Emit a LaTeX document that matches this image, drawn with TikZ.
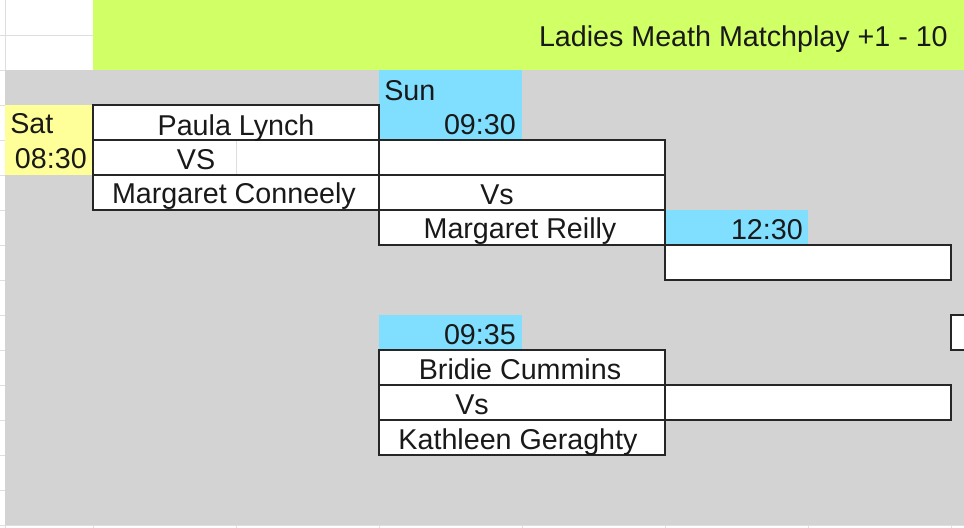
\documentclass[tikz,border=0pt]{standalone}
\usepackage{fontspec}
\setmainfont{Liberation Sans}
\usetikzlibrary{positioning}

\definecolor{sheetgray}{RGB}{211,211,211}
\definecolor{headgreen}{RGB}{208,255,102}
\definecolor{timeblue}{RGB}{128,222,255}
\definecolor{dayyellow}{RGB}{255,255,153}
\definecolor{gridgray}{RGB}{222,222,222}

\begin{document}
\begin{tikzpicture}[x=0.75pt, y=-0.75pt,
    gridline/.style={draw=gridgray, line width=0.6pt},
    slot/.style={draw=black!85, fill=white, line width=0.8pt, minimum width=214.5pt, minimum height=26.25pt, inner sep=0pt},
    entry/.style={anchor=base, inner sep=0pt, font=\fontsize{21.5}{24}\selectfont, text=black!90}]

    \useasboundingbox (0,0) rectangle (964,528);
    \fill[white] (0,0) rectangle (964,528);

    % sheet grid
    \foreach \y in {35,70,...,525} \draw[gridline] (0,\y) -- (964,\y);
    \foreach \x in {5,93,236,379,522,665,808,951} \draw[gridline] (\x,0) -- (\x,528);

    % shaded area and coloured cells
    \fill[sheetgray] (5,70) rectangle (964,525);
    \fill[headgreen] (93,0) rectangle (964,70);
    \fill[dayyellow] (5,105) rectangle (93,175);
    \fill[timeblue] (379,70) rectangle (522,140);
    \fill[timeblue] (665,210) rectangle (808,245);
    \fill[timeblue] (379,315) rectangle (522,350);

    \node[entry, anchor=base east] (title) at (948,47) {Ladies Meath Matchplay +1 - 10};

    % saturday match
    \node[slot] (paula) at (236,122.5) {};
    \node[slot] (vsone) at (236,157.5) {};
    \draw[gridline] (236,141) -- (236,174);
    \node[slot] (conneely) at (236,192.5) {};
    \node[entry, anchor=base west] (sat) at (10,133) {Sat};
    \node[entry, anchor=base east] (satime) at (87,168) {08:30};
    \node[entry] (paulatxt) at (236,135) {Paula Lynch};
    \node[entry] (vsonetxt) at (196,169) {VS};
    \node[entry] (conneelytxt) at (234,203) {Margaret Conneely};

    % sunday 09:30
    \node[slot] (winone) at (522,157.5) {};
    \node[slot] (vstwo) at (522,192.5) {};
    \node[slot] (reilly) at (522,227.5) {};
    \node[entry, anchor=base west] (sun) at (384,100) {Sun};
    \node[entry, anchor=base east] (suntime) at (516,134) {09:30};
    \node[entry] (vstwotxt) at (497,204) {Vs};
    \node[entry] (reillytxt) at (520,238) {Margaret Reilly};

    % 12:30
    \node[slot] (wintwo) at (808,262.5) {};
    \node[entry, anchor=base east] (lunchtime) at (803,239) {12:30};
    \draw[draw=black!85, fill=white, line width=0.8pt] (951,315) rectangle (968,350);

    % sunday 09:35
    \node[slot] (bridie) at (522,367.5) {};
    \node[slot] (winthree) at (808,402.5) {};
    \node[slot] (vsthree) at (522,402.5) {};
    \node[slot] (kathleen) at (522,437.5) {};
    \node[entry, anchor=base east] (latetime) at (516,344) {09:35};
    \node[entry] (bridietxt) at (520,379) {Bridie Cummins};
    \node[entry] (vsthreetxt) at (472,414) {Vs};
    \node[entry] (kathleentxt) at (518,449) {Kathleen Geraghty};

\end{tikzpicture}
\end{document}
